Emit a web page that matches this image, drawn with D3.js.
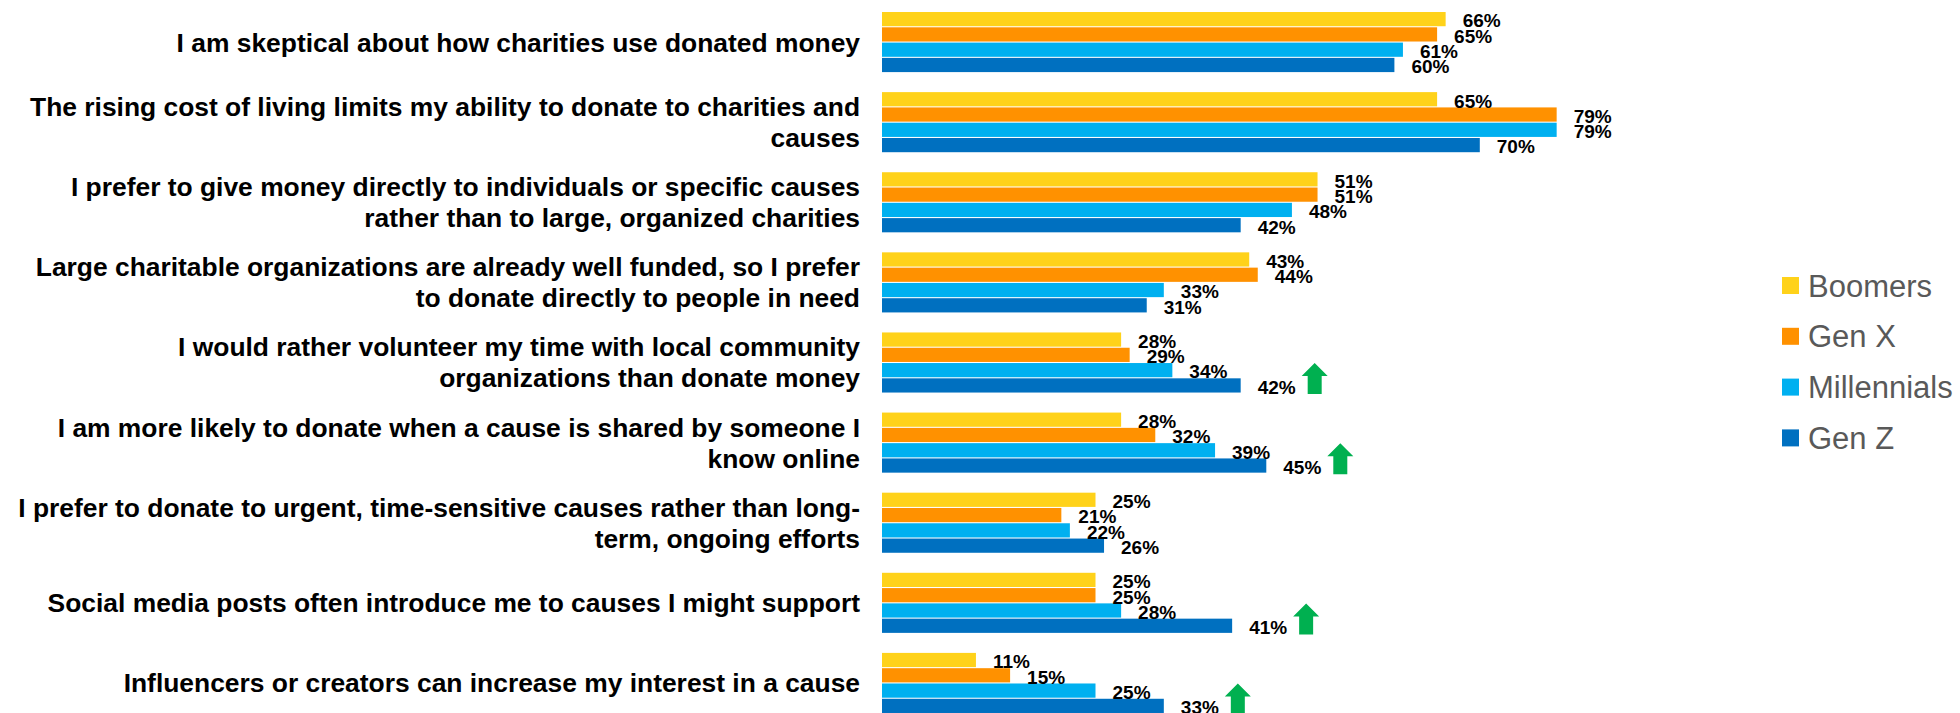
<!DOCTYPE html>
<html>
<head>
<meta charset="utf-8">
<script src="https://cdn.jsdelivr.net/npm/d3@7"></script>
<style>
  html, body { margin: 0; padding: 0; background: #ffffff; }
  svg { display: block; }
</style>
</head>
<body>
<svg id="chart" width="1960" height="713"></svg>
<script>
// Statements (line breaks as displayed)
const categories = [
  "I am skeptical about how charities use donated money",
  "The rising cost of living limits my ability to donate to charities and\ncauses",
  "I prefer to give money directly to individuals or specific causes\nrather than to large, organized charities",
  "Large charitable organizations are already well funded, so I prefer\nto donate directly to people in need",
  "I would rather volunteer my time with local community\norganizations than donate money",
  "I am more likely to donate when a cause is shared by someone I\nknow online",
  "I prefer to donate to urgent, time-sensitive causes rather than long-\nterm, ongoing efforts",
  "Social media posts often introduce me to causes I might support",
  "Influencers or creators can increase my interest in a cause"
];

const seriesNames = ["Boomers", "Gen X", "Millennials", "Gen Z"];
const seriesColors = ["#FFD21A", "#FF9100", "#00B0F0", "#0070C0"];

// Percent agreeing, per generation
const boomers     = [66, 65, 51, 43, 28, 28, 25, 25, 11];
const genX        = [65, 79, 51, 44, 29, 32, 21, 25, 15];
const millennials = [61, 79, 48, 33, 34, 39, 22, 28, 25];
const genZ        = [60, 70, 42, 31, 42, 45, 26, 41, 33];

// Statements where Gen Z stands out (marked with an up arrow)
const genZUp = [false, false, false, false, true, true, false, true, true];

const seriesValues = [boomers, genX, millennials, genZ];

const svg = d3.select("#chart");
svg.append("rect").attr("width", 1960).attr("height", 713).attr("fill", "#ffffff");

const x = d3.scaleLinear().domain([0, 100]).range([882, 1736]);

const y = d3.scaleBand()
  .domain(d3.range(categories.length))
  .range([2, 723])
  .paddingInner(0.25)
  .paddingOuter(0.125);

const ySub = d3.scaleBand()
  .domain(d3.range(seriesNames.length))
  .range([0, y.bandwidth()])
  .paddingInner(0.07);

const rows = categories.map((c, i) => ({
  label: c,
  index: i,
  values: seriesValues.map((s, k) => ({ series: k, value: s[i] }))
}));

const groups = svg.append("g").selectAll("g.group")
  .data(rows)
  .join("g")
  .attr("class", "group")
  .attr("transform", d => `translate(0,${y(d.index)})`);

// Bars
groups.selectAll("rect.bar")
  .data(d => d.values)
  .join("rect")
  .attr("class", "bar")
  .attr("x", x(0))
  .attr("y", d => ySub(d.series))
  .attr("width", d => x(d.value) - x(0))
  .attr("height", ySub.bandwidth())
  .attr("fill", d => seriesColors[d.series]);

// Value labels
groups.selectAll("text.value")
  .data(d => d.values)
  .join("text")
  .attr("class", "value")
  .attr("x", d => x(d.value) + 17)
  .attr("y", d => ySub(d.series) + ySub.bandwidth() / 2 + 1.5)
  .attr("dy", "0.36em")
  .attr("font-family", "'Liberation Sans', Arial, sans-serif")
  .attr("font-weight", "bold")
  .attr("font-size", 19)
  .attr("fill", "#000000")
  .text(d => d.value + "%");

// Category labels, right aligned against the bars
const lineHeight = 31;
groups.append("text")
  .attr("class", "category")
  .attr("text-anchor", "end")
  .attr("font-family", "'Liberation Sans', Arial, sans-serif")
  .attr("font-weight", "bold")
  .attr("font-size", 26.4)
  .attr("fill", "#000000")
  .each(function(d) {
    const lines = d.label.split("\n");
    const mid = y.bandwidth() / 2;
    d3.select(this).selectAll("tspan")
      .data(lines)
      .join("tspan")
      .attr("x", 860)
      .attr("y", (l, j) => mid + (j - (lines.length - 1) / 2) * lineHeight)
      .attr("dy", "0.36em")
      .text(l => l);
  });

// Up arrows next to the Gen Z value
const arrowW = 26, arrowH = 31, headH = 13, stemW = 14;
const arrowPath = [
  [arrowW / 2, 0], [arrowW, headH], [(arrowW + stemW) / 2, headH],
  [(arrowW + stemW) / 2, arrowH], [(arrowW - stemW) / 2, arrowH],
  [(arrowW - stemW) / 2, headH], [0, headH]
];
const gz = seriesNames.length - 1;
groups.filter(d => genZUp[d.index])
  .append("path")
  .attr("d", d3.line()(arrowPath) + "Z")
  .attr("fill", "#00B050")
  .attr("transform", d => {
    const v = d.values[gz].value;
    const bottom = ySub(gz) + ySub.bandwidth() + 1.5;
    return `translate(${x(v) + 61},${bottom - arrowH})`;
  });

// Legend
const legend = svg.append("g").selectAll("g.legend")
  .data(seriesNames)
  .join("g")
  .attr("class", "legend")
  .attr("transform", (d, i) => `translate(1782,${285.5 + i * 50.8})`);

legend.append("rect")
  .attr("x", 0)
  .attr("y", -8.5)
  .attr("width", 17)
  .attr("height", 17)
  .attr("fill", (d, i) => seriesColors[i]);

legend.append("text")
  .attr("x", 26)
  .attr("y", 0)
  .attr("dy", "0.36em")
  .attr("font-family", "'Liberation Sans', Arial, sans-serif")
  .attr("font-size", 31)
  .attr("fill", "#595959")
  .text(d => d);
</script>
</body>
</html>
